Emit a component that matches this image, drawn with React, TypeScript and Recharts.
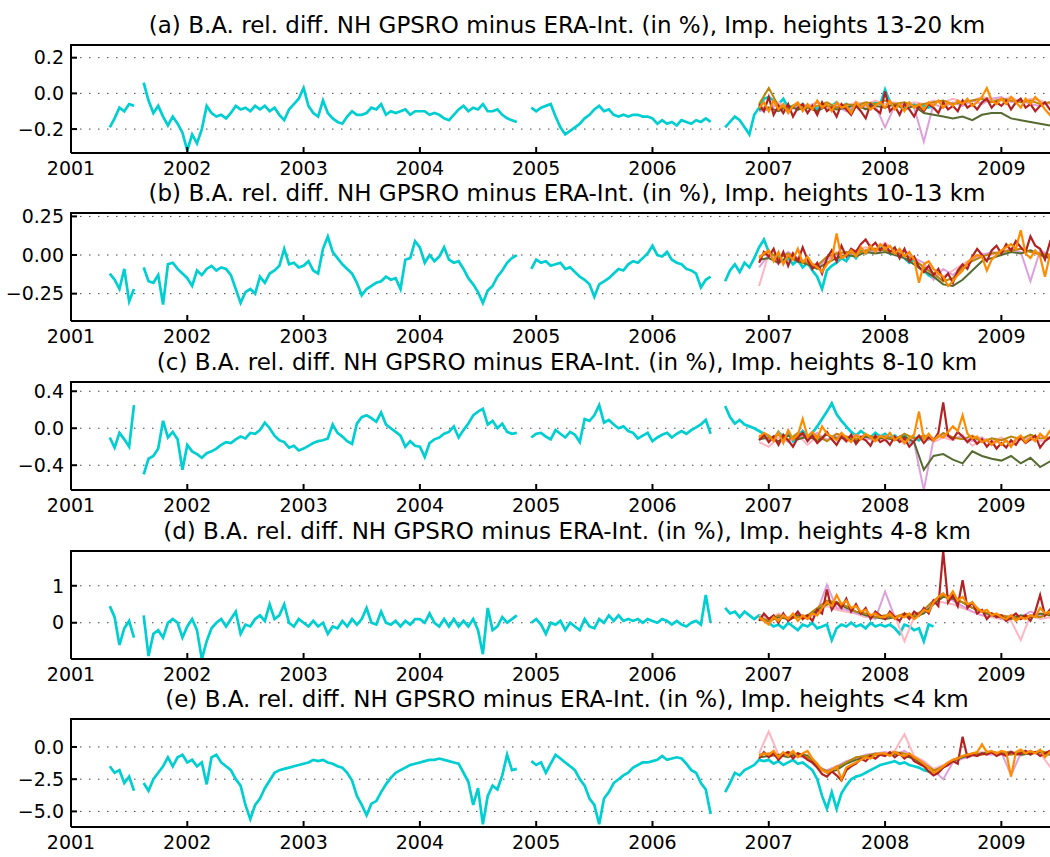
import { LineChart, Line, XAxis, YAxis, CartesianGrid } from 'recharts'

// sampling of the series: half-month steps, coarse = monthly
const STEP = 1 / 24
const COARSE = 1 / 12
const CYAN_START = 2001 + 8 / 24
const LATE_START = 2006 + 22 / 24

const years = [2001, 2002, 2003, 2004, 2005, 2006, 2007, 2008, 2009]
const xDomain = [2001, 2009.53]

const titles = [
  '(a) B.A. rel. diff. NH GPSRO minus ERA-Int. (in %), Imp. heights 13-20 km',
  '(b) B.A. rel. diff. NH GPSRO minus ERA-Int. (in %), Imp. heights 10-13 km',
  '(c) B.A. rel. diff. NH GPSRO minus ERA-Int. (in %), Imp. heights 8-10 km',
  '(d) B.A. rel. diff. NH GPSRO minus ERA-Int. (in %), Imp. heights 4-8 km',
  '(e) B.A. rel. diff. NH GPSRO minus ERA-Int. (in %), Imp. heights <4 km',
]
const yDomains = [[-0.334, 0.271], [-0.427, 0.272], [-0.668, 0.5], [-0.98, 1.94], [-6.21, 2.17]]
const yTicks = [[-0.2, 0, 0.2], [-0.25, 0, 0.25], [-0.4, 0, 0.4], [0, 1], [-5, -2.5, 0]]
const yDecimals = [1, 2, 1, 0, 1]

// cyan series, 2001.33 .. 2008.42
const cyanA = [
  -0.19, -0.14, -0.08, -0.1, -0.06, -0.07, null, 0.06, -0.04, -0.11, -0.07, -0.13, -0.18, -0.13, -0.17, -0.22,
  -0.32, -0.23, -0.28, -0.2, -0.07, -0.11, -0.13, -0.12, -0.14, -0.11, -0.07, -0.09, -0.08, -0.1, -0.07, -0.09, -0.07, -0.1, -0.08, -0.12, -0.15, -0.09, -0.06, -0.03,
  0.03, -0.07, -0.11, -0.13, -0.04, -0.11, -0.14, -0.16, -0.17, -0.13, -0.1, -0.12, -0.12, -0.11, -0.08, -0.09, -0.06, -0.12, -0.1, -0.11, -0.1, -0.09, -0.12, -0.1,
  -0.1, -0.1, -0.12, -0.11, -0.12, -0.14, -0.15, -0.12, -0.09, -0.07, -0.1, -0.08, -0.09, -0.06, -0.1, -0.1, -0.09, -0.12, -0.14, -0.15, -0.16, null, null, -0.08,
  -0.1, -0.08, -0.07, -0.06, -0.13, -0.19, -0.23, -0.21, -0.19, -0.17, -0.14, -0.12, -0.09, -0.07, -0.1, -0.09, -0.12, -0.13, -0.12, -0.13, -0.12, -0.12, -0.13, -0.13,
  -0.14, -0.17, -0.15, -0.17, -0.16, -0.18, -0.15, -0.16, -0.17, -0.15, -0.16, -0.14, -0.16, null, null, -0.19, -0.16, -0.13, -0.15, -0.19, -0.23, -0.12, -0.08, -0.03,
  -0.02, -0.04, -0.06, -0.03, -0.08, -0.07, -0.09, -0.06, -0.08, -0.07, -0.09, -0.06, -0.08, -0.07, -0.05, -0.08, -0.06, -0.09, -0.07, -0.08, -0.06, -0.07, -0.05, -0.06,
  0.02, -0.05, -0.07, -0.06, -0.08, -0.07, -0.06, -0.08, -0.07, -0.08, -0.07,
]
const cyanB = [
  -0.12, -0.16, -0.22, -0.09, -0.3, -0.22, null, -0.08, -0.17, -0.18, -0.13, -0.32, -0.06, -0.05, -0.09, -0.12,
  -0.15, -0.2, -0.1, -0.13, -0.09, -0.07, -0.1, -0.08, -0.09, -0.13, -0.22, -0.31, -0.24, -0.22, -0.25, -0.14, -0.18, -0.12, -0.1, -0.07, 0.04, -0.06, -0.05, -0.08,
  -0.07, -0.04, -0.1, -0.12, 0.04, 0.12, 0.02, -0.02, -0.06, -0.09, -0.12, -0.18, -0.26, -0.22, -0.2, -0.18, -0.17, -0.14, -0.16, -0.15, -0.22, -0.03, -0.02, 0.09,
  0.05, -0.05, 0, -0.04, -0.01, 0.05, -0.03, -0.05, -0.04, -0.09, -0.15, -0.19, -0.24, -0.31, -0.23, -0.2, -0.14, -0.1, -0.05, -0.02, 0, null, null, -0.09,
  -0.03, -0.05, -0.04, -0.07, -0.06, -0.05, -0.09, -0.08, -0.11, -0.14, -0.16, -0.19, -0.27, -0.19, -0.17, -0.15, -0.12, -0.09, -0.1, -0.06, -0.04, -0.05, -0.02, 0.01,
  0.06, 0, -0.01, 0.02, -0.03, -0.05, -0.06, -0.09, -0.1, -0.12, -0.21, -0.16, -0.14, null, null, -0.17, -0.1, -0.06, -0.11, -0.05, -0.08, -0.02, 0.05, 0.1,
  0.02, -0.03, 0, -0.05, -0.02, -0.06, -0.03, -0.08, -0.05, -0.1, -0.14, -0.22, -0.1, -0.07, -0.05, -0.02, -0.04, 0.01, -0.02, 0.03, 0.01, 0.04, 0.02, 0.05,
  0.03, 0.01, 0.04, 0, -0.02, -0.05, -0.03, -0.08, -0.1, -0.13, -0.15,
]
const cyanC = [
  -0.1, -0.21, -0.05, -0.12, -0.2, 0.25, null, -0.5, -0.33, -0.3, -0.22, 0.08, -0.1, -0.04, -0.12, -0.45,
  -0.18, -0.25, -0.28, -0.32, -0.27, -0.25, -0.22, -0.18, -0.15, -0.16, -0.12, -0.09, -0.11, -0.05, -0.06, -0.02, 0.06, 0, -0.08, -0.13, -0.15, -0.21, -0.19, -0.24,
  -0.22, -0.19, -0.16, -0.14, -0.13, -0.11, 0.04, -0.05, -0.09, -0.14, -0.17, 0.05, 0.12, 0.14, 0.11, 0.07, 0.17, 0.04, 0, -0.04, -0.08, -0.2, -0.14, -0.19,
  -0.2, -0.31, -0.16, -0.12, -0.1, -0.06, -0.04, 0.02, -0.1, -0.02, 0.05, 0.14, 0.18, 0.21, 0.04, 0.08, 0, 0.05, -0.04, -0.06, -0.05, null, null, -0.1,
  -0.06, -0.05, -0.09, -0.12, -0.02, -0.06, -0.1, -0.04, -0.07, -0.15, 0.1, 0.08, 0.14, 0.25, 0.06, 0.09, 0.04, 0, 0.02, -0.03, -0.05, -0.11, -0.08, -0.05,
  -0.14, -0.1, -0.07, -0.05, -0.1, -0.06, -0.03, -0.06, -0.02, 0.01, 0.04, 0.09, -0.06, null, null, 0.24, 0.12, 0.05, 0.09, 0.04, 0.02, 0, -0.03, -0.06,
  -0.08, -0.12, -0.04, -0.1, -0.06, -0.14, -0.08, -0.03, -0.09, -0.05, 0.02, 0.1, 0.18, 0.27, 0.15, 0.08, 0.02, -0.04, -0.08, -0.03, -0.07, -0.1, -0.05, -0.09,
  -0.06, -0.1, -0.08, -0.12, -0.07, -0.15, -0.1, -0.13, -0.08, -0.12, -0.1,
]
const cyanD = [
  0.45, 0.15, -0.6, -0.15, 0.05, -0.4, null, 0.2, -0.9, -0.3, -0.2, -0.4, 0, 0.1, 0, -0.4,
  -0.1, 0.1, -0.2, -0.98, -0.5, -0.15, 0, 0.1, -0.1, 0.1, 0.3, -0.3, -0.05, -0.1, 0.1, 0.2, 0.05, 0.5, 0.1, 0.2, 0.5, 0, -0.1, 0.1,
  0, -0.1, 0.05, -0.1, 0, -0.3, -0.1, -0.15, 0.05, -0.1, 0.1, -0.05, 0.1, 0.4, 0, -0.05, 0.3, 0, -0.05, 0.05, -0.1, 0.05, -0.05, 0.1,
  0.1, 0, 0.25, 0, -0.1, 0.1, -0.1, 0.1, -0.1, 0.05, -0.1, 0.1, -0.2, -0.85, 0.4, -0.2, -0.1, 0.15, 0, 0.1, 0.2, null, null, 0,
  0.1, -0.05, -0.3, 0, -0.05, 0.05, -0.2, 0, -0.1, -0.2, 0.1, -0.1, -0.15, 0.1, 0, 0.2, 0.05, 0.2, 0.05, 0.1, 0.05, 0.1, 0, 0.1,
  0.05, 0, 0.1, 0.05, -0.05, 0.05, -0.05, -0.1, 0, 0.05, -0.05, 0.75, 0, null, null, 0.4, 0.25, 0.3, 0.15, 0.3, 0.2, 0.1, 0.2, 0.15,
  0, -0.1, -0.05, -0.15, 0, -0.1, -0.2, -0.05, -0.1, 0, -0.15, -0.1, -0.05, -0.47, -0.15, -0.05, -0.1, 0, -0.1, -0.05, -0.15, 0, -0.1, -0.05,
  -0.1, -0.05, -0.15, -0.3, -0.05, -0.1, -0.2, -0.15, -0.5, -0.05, -0.1,
]
const cyanE = [
  -1.5, -2, -1.8, -2.8, -2.3, -3.4, null, -2.8, -3.4, -2.5, -2, -1.5, -0.8, -1.5, -0.8, -0.6,
  -1.2, -1, -1.5, -1.2, -2.9, -0.8, -0.6, -1.2, -1.5, -1.8, -2.5, -3, -4.5, -5.6, -4.5, -4, -3.2, -2.6, -2, -1.8, -1.7, -1.6, -1.5, -1.4,
  -1.3, -1.2, -1, -1.1, -1, -1.2, -1.3, -1.5, -1.6, -2, -2.6, -3.8, -4.5, -5.3, -4.4, -4.2, -3.5, -2.9, -2.4, -2, -1.8, -1.6, -1.4, -1.3,
  -1.2, -1.1, -1, -1, -0.9, -1, -1.1, -1.2, -1.3, -2, -2.7, -4.5, -3.2, -6, -3.8, -3, -3.3, -2.2, -0.6, -1.8, -1.7, null, null, -1.1,
  -1.4, -1.2, -2, -1.3, -0.6, -0.9, -1.2, -1.5, -1.8, -2.5, -3, -4, -4.5, -6, -4, -3.5, -2.8, -2.5, -2.2, -2, -1.6, -1.4, -1.2, -1.2,
  -1.1, -1, -0.7, -1, -0.9, -0.8, -0.9, -1.3, -1.8, -2, -2.8, -3.3, -5.2, null, null, -3.5, -2.8, -2, -2.2, -1.8, -1.6, -1.4, -1, -1.1,
  -1, -1.3, -1.1, -1.4, -1.2, -1, -1.3, -1.2, -1.5, -1.8, -2.5, -3.8, -4.8, -3.5, -4.8, -3.6, -3, -2.5, -2.3, -2.2, -2, -1.8, -1.6, -1.4,
  -1.3, -1.2, -1.1, -1.3, -1.2, -1.4, -1.5, -1.6, -1.8, -1.9, -2,
]

// orange and dark red, 2006.92 .. 2009.5, half-month steps
const orangeA = [
  -0.08, -0.05,
  -0.1, -0.04, -0.09, -0.06, -0.11, -0.07, -0.05, -0.1, -0.06, -0.09, -0.04, -0.08, -0.06, -0.1, -0.05, -0.08, -0.07, -0.11, -0.05, -0.08, -0.06, -0.09, -0.07, -0.05,
  -0.08, -0.04, -0.09, -0.06, -0.1, -0.05, -0.08, -0.06, -0.09, -0.05, -0.07, -0.04, -0.08, -0.05, -0.07, -0.04, -0.06, -0.03, -0.07, -0.05, -0.02, 0.03, -0.04, -0.06,
  -0.03, -0.06, -0.02, -0.05, -0.08, -0.03, -0.06, -0.02, -0.05, -0.09, -0.12, -0.07, -0.1,
]
const redA = [
  -0.06, -0.1,
  -0.02, -0.12, -0.07, -0.11, -0.06, -0.13, -0.08, -0.06, -0.11, -0.07, -0.12, -0.05, -0.1, -0.08, -0.13, -0.06, -0.09, -0.12, -0.07, -0.1, -0.14, -0.06, -0.09, -0.11,
  0.01, -0.1, -0.07, -0.12, -0.06, -0.09, -0.13, -0.07, -0.1, -0.06, -0.08, -0.11, -0.05, -0.09, -0.07, -0.1, -0.04, -0.08, -0.06, -0.09, -0.05, -0.03, -0.08, -0.05,
  -0.07, -0.04, -0.09, -0.05, -0.03, -0.08, -0.06, -0.1, -0.07, -0.05, -0.09, -0.08, -0.11,
]
const orangeB = [
  -0.02, 0.01,
  0.03, -0.04, 0.02, -0.06, 0, -0.03, 0.04, -0.05, -0.01, -0.06, -0.08, -0.11, -0.06, -0.03, 0.14, -0.02, 0, 0.03, -0.01, 0.05, 0.01, 0.06, 0.02, 0.07,
  0.04, 0.06, 0.01, 0.04, -0.01, 0.02, -0.03, -0.18, -0.06, -0.04, -0.09, -0.12, -0.14, -0.2, -0.17, -0.13, -0.1, -0.05, -0.02, 0, -0.01, -0.1, -0.03, 0,
  0.03, 0.05, 0.07, 0.04, 0.16, 0.01, -0.02, 0.03, -0.01, -0.14, 0, -0.03, 0.02,
]
const redB = [
  -0.05, 0.02,
  -0.01, 0.04, -0.05, 0.02, -0.07, 0.01, -0.04, 0.05, -0.03, -0.09, -0.05, -0.12, -0.02, 0.03, -0.04, 0.06, -0.01, 0.04, 0.02, 0.07, 0.1, 0.05, 0.08, 0.03,
  0.07, 0.02, 0.05, -0.02, 0.04, -0.04, -0.01, -0.08, -0.11, -0.07, -0.13, -0.09, -0.16, -0.12, -0.18, -0.1, -0.06, -0.09, -0.01, 0.04, 0, -0.04, 0.03, 0.06,
  0.01, 0.07, 0.03, 0.09, 0.05, 0.02, 0.12, 0.06, 0.04, -0.03, 0.08, 0.01, -0.02,
]
const orangeC = [
  -0.1, -0.05,
  -0.08, -0.14, -0.04, -0.16, -0.02, -0.12, -0.07, 0.1, -0.09, -0.04, -0.11, 0.02, -0.06, -0.09, -0.13, -0.05, -0.1, -0.15, -0.07, -0.12, -0.06, -0.1, -0.14, -0.08,
  -0.11, -0.05, -0.13, -0.09, -0.16, -0.11, -0.07, 0.18, -0.12, -0.06, -0.13, -0.08, -0.1, -0.04, 0.02, -0.03, 0.14, -0.06, -0.11, -0.09, -0.15, -0.12, -0.18, -0.13,
  -0.18, -0.13, -0.2, -0.12, -0.08, -0.15, -0.1, -0.14, -0.06, -0.11, -0.03, -0.08, 0.02,
]
const redC = [
  -0.13, -0.07,
  -0.15, -0.09, -0.18, -0.07, -0.13, -0.2, -0.1, -0.05, -0.14, -0.08, -0.16, -0.11, -0.04, -0.12, -0.18, -0.09, -0.14, -0.07, -0.17, -0.1, -0.13, -0.19, -0.08, -0.15,
  -0.12, -0.18, -0.09, -0.15, -0.11, -0.2, -0.14, -0.08, -0.16, -0.1, -0.13, -0.05, 0.28, -0.08, -0.12, -0.04, -0.09, -0.15, -0.1, -0.17, -0.12, -0.2, -0.14, -0.22,
  -0.16, -0.21, -0.13, -0.18, -0.1, -0.16, -0.12, -0.08, -0.21, -0.14, -0.1, -0.15, -0.06,
]
const orangeD = [
  0.15, 0.05,
  -0.05, 0.15, 0.05, 0.2, 0.1, 0.25, 0.05, 0.2, 0.1, 0.25, 0.2, 0.4, 0.55, 0.45, 0.75, 0.5, 0.6, 0.4, 0.45, 0.3, 0.35, 0.2, 0.25, 0.15,
  0.15, 0.25, 0.1, 0.2, 0.15, 0.25, 0.1, 0.2, 0.35, 0.3, 0.55, 0.7, 0.8, 0.65, 0.85, 0.6, 0.7, 0.5, 0.55, 0.4, 0.3, 0.35, 0.2, 0.25,
  0.15, 0.1, 0.2, 0.05, 0.15, 0.1, 0.2, 0.15, 0.4, 0.25, 0.3, 0.2, 0.25,
]
const redD = [
  0.05, 0.25,
  0.1, 0.2, 0, 0.25, 0.05, 0.15, 0.3, 0.1, 0.2, 0.05, 0.35, 0.25, 0.9, 0.35, 0.55, 0.4, 0.65, 0.3, 0.5, 0.25, 0.4, 0.1, 0.3, 0.2,
  0.1, 0.3, 0.15, 0.05, 0.25, 0.1, 0.3, 0.2, 0.4, 0.25, 0.6, 0.45, 1.94, 0.55, 0.75, 0.45, 1.15, 0.4, 0.55, 0.25, 0.35, 0.1, 0.25, 0.15,
  0.2, 0.05, 0.15, 0.25, 0.1, 0.2, 0.05, 0.3, 0.75, 0.2, 0.35, 0.15, 0.3,
]
const orangeE = [
  -0.7, -0.5,
  -0.6, -0.3, -0.8, -0.4, -0.7, -0.3, -0.8, -0.5, -0.3, -0.9, -1.3, -1.8, -2, -1.8, -1.5, -2.5, -1.6, -1.4, -1.2, -1, -0.8, -0.9, -0.6, -0.5,
  -0.5, -0.7, -0.4, -0.6, -0.7, -0.5, -0.8, -1, -1.3, -1.6, -2, -1.8, -1.5, -1.2, -1, -0.9, -0.7, -0.6, -0.5, -0.4, 0.2, -0.4, -0.3, -0.5,
  -0.3, -0.4, -2.3, -0.4, -0.2, -0.5, -0.3, -0.5, -0.2, -0.8, -0.4, -0.6, -0.5,
]
const redE = [
  -0.9, -0.4,
  -0.8, -0.5, -1, -0.6, -0.4, -0.9, -0.5, -0.7, -1, -1.2, -1.6, -2.1, -2.3, -1.9, -2.2, -2.6, -1.8, -1.5, -1.3, -0.9, -1.1, -0.7, -0.9, -0.6,
  -0.7, -0.4, -0.8, -0.5, -0.9, -0.6, -1.1, -1.3, -1.5, -1.9, -2.2, -2, -1.6, -1.4, -1.1, -1.3, 0.8, -0.8, -0.6, -0.7, -0.5, -0.6, -0.4, -0.7,
  -0.5, -0.7, -0.4, -0.6, -0.5, -0.3, -0.6, -0.4, -0.7, -0.5, -0.3, -0.6, -0.4,
]

// olive, plum, pink, goldenrod, 2006.92 .. 2009.5, monthly
const oliveA = [-0.09, -0.08, -0.1, -0.07, -0.09, -0.08, -0.1, -0.07, -0.09, -0.08, -0.06, -0.09, -0.07, -0.08, -0.06, -0.09, -0.07, -0.11, -0.12, -0.13, -0.14, -0.13, -0.15, -0.12, -0.11, -0.11, -0.14, -0.15, -0.16, -0.17, -0.18, -0.18]
const plumA = [-0.1, -0.09, -0.06, -0.1, -0.07, -0.08, -0.05, -0.09, -0.07, -0.1, -0.06, -0.08, -0.07, -0.19, -0.07, -0.06, -0.08, -0.27, -0.06, -0.08, -0.05, -0.07, -0.04, -0.06, -0.03, -0.02, -0.05, -0.04, -0.06, -0.07, -0.05, -0.06]
const pinkA = [-0.07, -0.08, -0.05, -0.09, -0.06, -0.07, -0.05, -0.08, -0.06, -0.07, -0.05, -0.06, -0.04, -0.06, -0.05, -0.07, -0.05, -0.06, -0.04, -0.05, -0.03, -0.05, -0.04, -0.02, -0.03, -0.04, -0.02, -0.05, -0.03, -0.04, -0.06, -0.05]
const goldA = [-0.06, 0.03, -0.07, -0.09, -0.06, -0.08, -0.07, -0.05, -0.08, -0.06, -0.07, -0.05, -0.06, -0.04, -0.06, -0.05, -0.07, -0.06, -0.05, -0.04, -0.06, -0.05, -0.04, -0.03, -0.05, -0.03, -0.04, -0.05, -0.04, -0.06, -0.05, -0.07]
const oliveB = [-0.03, -0.02, -0.05, -0.01, -0.04, -0.06, -0.09, -0.05, -0.02, 0, -0.01, 0.02, 0.01, 0.02, 0, -0.02, -0.06, -0.1, -0.14, -0.19, -0.2, -0.16, -0.1, -0.04, -0.02, 0, 0.02, 0.01, 0.03, 0, -0.02, -0.01]
const plumB = [-0.08, 0, -0.03, 0.02, -0.02, -0.05, -0.08, -0.03, 0, 0.02, 0, 0.03, 0.02, 0.04, 0.01, 0.03, -0.02, -0.05, -0.16, -0.09, -0.13, -0.08, -0.03, 0, 0.02, 0.01, 0.04, 0.02, -0.17, 0.03, 0, 0.01]
const pinkB = [-0.2, 0.01, -0.06, 0, -0.03, -0.04, -0.07, -0.02, 0.02, 0, 0.03, 0.05, 0.04, 0.08, 0.03, 0.02, -0.03, -0.08, -0.12, -0.14, -0.1, -0.06, -0.02, 0.01, 0, 0.02, 0.04, 0.01, 0.03, 0, -0.01, 0.02]
const goldB = [-0.01, 0.02, -0.02, 0.01, -0.03, -0.05, -0.07, -0.01, 0.01, 0.02, 0.01, 0.03, 0.04, 0.03, 0.02, 0, -0.03, -0.08, -0.12, -0.17, -0.15, -0.08, -0.04, -0.01, 0.01, 0.02, 0.03, 0.04, 0.02, 0.01, 0, -0.01]
const oliveC = [-0.12, -0.1, -0.14, -0.08, -0.12, -0.09, -0.13, -0.07, -0.11, -0.1, -0.14, -0.09, -0.12, -0.1, -0.13, -0.09, -0.15, -0.45, -0.3, -0.28, -0.34, -0.38, -0.25, -0.3, -0.33, -0.35, -0.3, -0.38, -0.32, -0.42, -0.36, -0.4]
const plumC = [-0.09, -0.12, -0.06, -0.15, -0.08, -0.11, -0.05, -0.13, -0.09, -0.12, -0.07, -0.1, -0.14, -0.08, -0.13, -0.1, -0.16, -0.67, -0.12, -0.07, -0.11, -0.09, -0.14, -0.1, -0.18, -0.12, -0.16, -0.09, -0.13, -0.08, -0.11, -0.07]
const pinkC = [-0.15, -0.2, -0.1, -0.14, -0.07, -0.18, -0.09, -0.12, -0.06, -0.15, -0.1, -0.13, -0.08, -0.14, -0.09, -0.17, -0.11, -0.08, -0.15, -0.1, -0.13, -0.07, -0.19, -0.12, -0.15, -0.1, -0.17, -0.12, -0.08, -0.14, -0.11, -0.09]
const goldC = [-0.08, -0.11, -0.07, -0.13, -0.05, -0.1, -0.08, -0.14, -0.06, -0.09, -0.12, -0.07, -0.1, -0.09, -0.12, -0.06, -0.11, -0.08, -0.13, -0.05, -0.1, -0.12, -0.08, -0.15, -0.11, -0.13, -0.09, -0.12, -0.07, -0.11, -0.1, -0.08]
const oliveD = [0.1, 0.05, 0.15, 0.1, 0.2, 0.15, 0.35, 0.5, 0.55, 0.4, 0.3, 0.2, 0.15, 0.1, 0.15, 0.2, 0.15, 0.25, 0.5, 0.7, 0.65, 0.55, 0.4, 0.3, 0.2, 0.15, 0.1, 0.2, 0.15, 0.25, 0.2, 0.15]
const plumD = [0.1, 0, 0.2, 0.1, 0.25, 0.15, 0.3, 1.03, 0.4, 0.35, 0.25, 0.2, 0.1, 0.84, 0.15, 0.25, 0.1, 0.3, 0.55, 0.75, 0.6, 0.45, 0.3, 0.2, 0.25, 0.1, 0.2, 0.15, 0.3, 0.2, 0.25, 0.15]
const pinkD = [0.2, 0.1, 0.25, 0.15, 0.2, 0.1, 0.3, 0.45, 0.35, 0.3, 0.25, 0.15, 0.2, 0.1, 0.2, -0.5, 0.15, 0.3, 0.6, 0.55, 0.5, 0.4, 0.3, 0.2, 0.15, 0.1, 0.05, -0.47, 0.2, 0.1, 0.15, 0.05]
const goldD = [0.15, 0.05, 0.2, 0.1, 0.15, 0.2, 0.4, 0.6, 0.55, 0.45, 0.3, 0.25, 0.15, 0.2, 0.15, 0.25, 0.2, 0.35, 0.6, 0.75, 0.7, 0.55, 0.4, 0.3, 0.25, 0.2, 0.15, 0.1, 0.2, 0.15, 0.25, 0.2]
const oliveE = [-0.8, -0.7, -0.6, -0.8, -0.5, -0.7, -1.5, -2, -1.8, -1.3, -1, -0.8, -0.6, -0.6, -0.5, -0.7, -0.9, -1.4, -1.9, -1.5, -1.1, -0.8, -0.6, -0.5, -0.4, -0.5, -0.4, -0.6, -0.5, -0.4, -0.6, -0.5]
const plumE = [-0.6, -0.5, -0.8, -0.4, -0.7, -0.9, -1.6, -1.8, -1.5, -1.1, -0.9, -0.6, -0.5, -0.4, -0.6, -0.3, -0.8, -1.2, -1.8, -2.5, -1.2, -0.9, -0.7, -0.5, -0.6, -0.4, -2.2, -0.5, -0.3, -0.6, -0.4, -0.5]
const pinkE = [-0.5, 1.2, -0.6, -0.4, -0.8, -0.6, -1.4, -1.9, -1.6, -1.2, -0.9, -0.7, -0.5, -0.5, -0.3, 1, -0.7, -1.1, -1.7, -1.4, -1, -0.7, -0.6, -0.4, -0.5, -0.6, -0.3, -0.7, -0.4, -0.5, -1.5, -0.6]
const goldE = [-0.6, -0.5, -0.7, -0.4, -0.6, -0.8, -1.5, -1.9, -1.6, -1.2, -0.8, -0.7, -0.5, -0.6, -0.4, -0.5, -0.8, -1.3, -1.8, -1.6, -1, -0.7, -0.5, -0.6, -0.4, -0.5, -0.6, -0.4, -0.5, -0.3, -0.5, -0.4]

const colors = {
  cyan: '#00CED1',
  pink: '#FFB6C1',
  plum: '#DDA0DD',
  olive: '#556B2F',
  gold: '#B8860B',
  red: '#B22222',
  orange: '#FF8C00',
}

const panelSeries = [
  { cyan: cyanA, pink: pinkA, plum: plumA, olive: oliveA, gold: goldA, red: redA, orange: orangeA },
  { cyan: cyanB, pink: pinkB, plum: plumB, olive: oliveB, gold: goldB, red: redB, orange: orangeB },
  { cyan: cyanC, pink: pinkC, plum: plumC, olive: oliveC, gold: goldC, red: redC, orange: orangeC },
  { cyan: cyanD, pink: pinkD, plum: plumD, olive: oliveD, gold: goldD, red: redD, orange: orangeD },
  { cyan: cyanE, pink: pinkE, plum: plumE, olive: oliveE, gold: goldE, red: redE, orange: orangeE },
]

const toPoints = (start: number, step: number, values: (number | null)[]) =>
  values.map((v, k) => ({ t: start + k * step, v }))

const FONT = 'DejaVu Sans'
const PLOT_LEFT = 71
const PLOT_W = 992
const PLOT_TOPS = [45, 213, 382, 551, 719]

function Panel({ index }: { index: number }) {
  const top = PLOT_TOPS[index]
  const s = panelSeries[index]
  const dec = yDecimals[index]
  const fmt = (v: number) => {
    const txt = Math.abs(v).toFixed(dec)
    return v < 0 ? '\u2212' + txt : txt
  }
  const lines = [
    { key: 'cyan', start: CYAN_START, step: STEP, values: s.cyan, width: 2.7, axis: 0 },
    // the pink series is bound to the top axis (same scale) so that axis is drawn
    { key: 'pink', start: LATE_START, step: COARSE, values: s.pink, width: 2, axis: 'top' },
    { key: 'plum', start: LATE_START, step: COARSE, values: s.plum, width: 2, axis: 0 },
    { key: 'olive', start: LATE_START, step: COARSE, values: s.olive, width: 2, axis: 0 },
    { key: 'gold', start: LATE_START, step: COARSE, values: s.gold, width: 2, axis: 0 },
    { key: 'red', start: LATE_START, step: STEP, values: s.red, width: 2.2, axis: 0 },
    { key: 'orange', start: LATE_START, step: STEP, values: s.orange, width: 2.2, axis: 0 },
  ]
  return (
    <>
      <div
        style={{
          position: 'absolute',
          left: PLOT_LEFT,
          width: PLOT_W,
          top: top - 28.3,
          textAlign: 'center',
          fontSize: 23,
          lineHeight: '17px',
          whiteSpace: 'nowrap',
          color: '#000',
        }}
      >
        {titles[index]}
      </div>
      <div style={{ position: 'absolute', left: 0, top: top - 10 }}>
        <LineChart width={1080} height={148} margin={{ top: 9, right: 17, bottom: 0, left: 11 }}>
          <CartesianGrid horizontal vertical={false} stroke="#444" strokeDasharray="1.5 7.5" />
          <XAxis
            dataKey="t"
            type="number"
            domain={xDomain}
            ticks={years}
            interval={0}
            allowDataOverflow
            height={30}
            tickSize={-6}
            tickMargin={15}
            stroke="#000"
            strokeWidth={2}
            tick={{ fill: '#000', fontSize: 19, fontFamily: FONT }}
          />
          <XAxis
            xAxisId="top"
            orientation="top"
            dataKey="t"
            type="number"
            domain={xDomain}
            ticks={years}
            interval={0}
            allowDataOverflow
            height={1}
            tickSize={-6}
            tickMargin={0}
            tick={false}
            stroke="#000"
            strokeWidth={2}
          />
          <YAxis
            type="number"
            domain={yDomains[index]}
            ticks={yTicks[index]}
            interval={0}
            allowDataOverflow
            width={60}
            tickSize={-6}
            tickMargin={13}
            stroke="#000"
            strokeWidth={2}
            tick={{ fill: '#000', fontSize: 19, fontFamily: FONT }}
            tickFormatter={fmt}
          />
          {lines.map((l) => (
            <Line
              key={l.key}
              xAxisId={l.axis}
              data={toPoints(l.start, l.step, l.values)}
              dataKey="v"
              type="linear"
              stroke={colors[l.key as keyof typeof colors]}
              strokeWidth={l.width}
              dot={false}
              activeDot={false}
              isAnimationActive={false}
            />
          ))}
        </LineChart>
      </div>
      {/* top frame of the axes box */}
      <div
        style={{
          position: 'absolute',
          left: PLOT_LEFT - 1,
          top: top - 1,
          width: PLOT_W + 20,
          height: 2,
          background: '#000',
          zIndex: 2,
        }}
      />
    </>
  )
}

export default function App() {
  return (
    <div
      style={{
        position: 'absolute',
        left: 0,
        top: 0,
        width: 1050,
        height: 857,
        overflow: 'hidden',
        background: '#fff',
        fontFamily: FONT,
      }}
    >
      {[0, 1, 2, 3, 4].map((i) => (
        <Panel key={i} index={i} />
      ))}
    </div>
  )
}
